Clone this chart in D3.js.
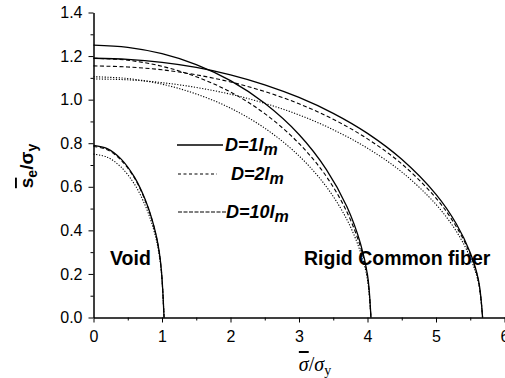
<!DOCTYPE html>
<html>
<head>
<meta charset="utf-8">
<script src="https://cdn.jsdelivr.net/npm/d3@7"></script>
<style>
  html, body { margin: 0; padding: 0; background: #fff; }
  svg { display: block; }
</style>
</head>
<body>
<svg id="chart" width="505" height="378"></svg>
<script>
// Axis ticks
const xMajor = [0, 1, 2, 3, 4, 5, 6];
const xMinor = [0.5, 1.5, 2.5, 3.5, 4.5, 5.5];
const yMajor = [0, 0.2, 0.4, 0.6, 0.8, 1.0, 1.2, 1.4];
const yMinor = [0.1, 0.3, 0.5, 0.7, 0.9, 1.1, 1.3];

// Void: normalized mean stress vs. effective stress
const voidX   = [0, 0.2, 0.4, 0.6, 0.75, 0.85, 0.92, 0.96, 0.99, 1.01, 1.03];
const voidD1  = [0.79, 0.775, 0.728, 0.643, 0.545, 0.455, 0.37, 0.30, 0.22, 0.13, 0];
const voidD2  = [0.785, 0.77, 0.723, 0.639, 0.541, 0.452, 0.367, 0.298, 0.218, 0.129, 0];
const voidD10 = [0.75, 0.736, 0.691, 0.611, 0.518, 0.433, 0.352, 0.286, 0.21, 0.124, 0];

// Rigid inclusion
const rigidX   = [0, 0.5, 1, 1.5, 2, 2.5, 3, 3.4, 3.7, 3.9, 4.0, 4.05];
const rigidD1  = [1.25, 1.24, 1.211, 1.161, 1.087, 0.983, 0.84, 0.679, 0.508, 0.337, 0.196, 0];
const rigidD2  = [1.19, 1.181, 1.153, 1.105, 1.035, 0.936, 0.799, 0.647, 0.484, 0.321, 0.186, 0];
const rigidD10 = [1.105, 1.097, 1.071, 1.026, 0.961, 0.869, 0.742, 0.60, 0.449, 0.298, 0.173, 0];

// Common fiber
const fiberX   = [0, 0.5, 1, 1.5, 2, 2.5, 3, 3.5, 4, 4.5, 5, 5.3, 5.5, 5.62, 5.68];
const fiberD1  = [1.19, 1.185, 1.171, 1.148, 1.114, 1.068, 1.01, 0.937, 0.845, 0.726, 0.565, 0.428, 0.297, 0.172, 0];
const fiberD2  = [1.155, 1.15, 1.137, 1.114, 1.081, 1.037, 0.981, 0.91, 0.82, 0.705, 0.548, 0.415, 0.289, 0.167, 0];
const fiberD10 = [1.095, 1.091, 1.078, 1.056, 1.025, 0.983, 0.93, 0.862, 0.777, 0.668, 0.519, 0.394, 0.274, 0.159, 0];

const legendSizes = ["1", "2", "10"];
const regionLabels = ["Void", "Rigid Common fiber"];

const dashFor = { "1": null, "2": "4,2.5", "10": "1.2,1.6" };

const svg = d3.select("#chart");
const x = d3.scaleLinear().domain([0, 6]).range([93.5, 504.5]);
const y = d3.scaleLinear().domain([0, 1.4]).range([317.5, 12.5]);

const sans = "'Liberation Sans', Arial, sans-serif";
const serif = "'Liberation Serif', 'Times New Roman', serif";

// Axes: major and minor ticks, outward
function styleAxis(g) {
  g.select(".domain").attr("stroke", "#000").attr("stroke-width", 1);
  g.selectAll(".tick line").attr("stroke", "#000").attr("stroke-width", 1);
  g.selectAll(".tick text").attr("fill", "#000")
    .style("font-family", sans).style("font-size", "16px");
}

svg.append("g").attr("transform", `translate(0,${y(0)})`)
  .call(d3.axisBottom(x).tickValues(xMinor).tickSize(3).tickFormat("").tickSizeOuter(0))
  .call(styleAxis);
svg.append("g").attr("transform", `translate(0,${y(0)})`)
  .call(d3.axisBottom(x).tickValues(xMajor).tickSize(5).tickPadding(8).tickFormat(d3.format("d")).tickSizeOuter(0))
  .call(styleAxis);

svg.append("g").attr("transform", `translate(${x(0)},0)`)
  .call(d3.axisLeft(y).tickValues(yMinor).tickSize(3).tickFormat("").tickSizeOuter(0))
  .call(styleAxis);
svg.append("g").attr("transform", `translate(${x(0)},0)`)
  .call(d3.axisLeft(y).tickValues(yMajor).tickSize(5).tickPadding(6).tickFormat(d3.format(".1f")).tickSizeOuter(0))
  .call(styleAxis);

// Curves
const line = d3.line()
  .x(d => x(d[0]))
  .y(d => y(d[1]))
  .curve(d3.curveCatmullRom.alpha(0.5));

const curves = [
  { xs: voidX,  ys: voidD1,   d: "1" },
  { xs: voidX,  ys: voidD2,   d: "2" },
  { xs: voidX,  ys: voidD10,  d: "10" },
  { xs: rigidX, ys: rigidD1,  d: "1" },
  { xs: rigidX, ys: rigidD2,  d: "2" },
  { xs: rigidX, ys: rigidD10, d: "10" },
  { xs: fiberX, ys: fiberD1,  d: "1" },
  { xs: fiberX, ys: fiberD2,  d: "2" },
  { xs: fiberX, ys: fiberD10, d: "10" }
];

svg.append("g").selectAll("path")
  .data(curves)
  .join("path")
  .attr("d", c => line(c.xs.map((v, i) => [v, c.ys[i]])))
  .attr("fill", "none")
  .attr("stroke", "#000")
  .attr("stroke-width", c => c.d === "1" ? 1.3 : 1.1)
  .attr("stroke-dasharray", c => dashFor[c.d]);

// Legend
const legendRows = [
  { y: 145, x1: 177, x2: 223, tx: 225, dash: null },
  { y: 174, x1: 178, x2: 217, tx: 231, dash: "3,2.5" },
  { y: 212, x1: 178, x2: 226, tx: 226, dash: "4,1.5" }
];
const lg = svg.append("g");
legendSizes.forEach((s, i) => {
  const r = legendRows[i];
  lg.append("line")
    .attr("x1", r.x1).attr("x2", r.x2).attr("y1", r.y).attr("y2", r.y)
    .attr("stroke", "#000").attr("stroke-width", i === 0 ? 1.6 : 1.1)
    .attr("stroke-dasharray", r.dash);
  const t = lg.append("text")
    .attr("x", r.tx).attr("y", r.y + 6)
    .style("font-family", sans).style("font-size", "18px")
    .style("font-weight", "bold").style("font-style", "italic");
  t.append("tspan").text(`D=${s}l`);
  t.append("tspan").attr("dy", 4).style("font-size", "16px").text("m");
});

// Region labels
const regionPos = [[110, 265], [304, 265]];
svg.append("g").selectAll("text")
  .data(regionLabels)
  .join("text")
  .attr("x", (d, i) => regionPos[i][0])
  .attr("y", (d, i) => regionPos[i][1])
  .style("font-family", sans).style("font-size", "19.5px").style("font-weight", "bold")
  .text(d => d);

// X axis title
const xt = svg.append("text")
  .attr("x", 315).attr("y", 371)
  .attr("text-anchor", "middle")
  .style("font-family", serif).style("font-size", "20px");
xt.append("tspan").style("font-style", "italic").style("text-decoration", "overline").text("σ");
xt.append("tspan").text("/");
xt.append("tspan").style("font-style", "italic").text("σ");
xt.append("tspan").attr("dy", 4).style("font-size", "14px").text("y");

// Y axis title
const yt = svg.append("text")
  .attr("transform", "translate(33,166) rotate(-90)")
  .attr("text-anchor", "middle")
  .style("font-family", sans).style("font-size", "19px").style("font-weight", "bold");
yt.append("tspan").style("text-decoration", "overline").text("s");
yt.append("tspan").attr("dy", 4).style("font-size", "14px").text("e");
yt.append("tspan").attr("dy", -4).text("/σ");
yt.append("tspan").attr("dy", 4).style("font-size", "14px").text("y");
</script>
</body>
</html>
